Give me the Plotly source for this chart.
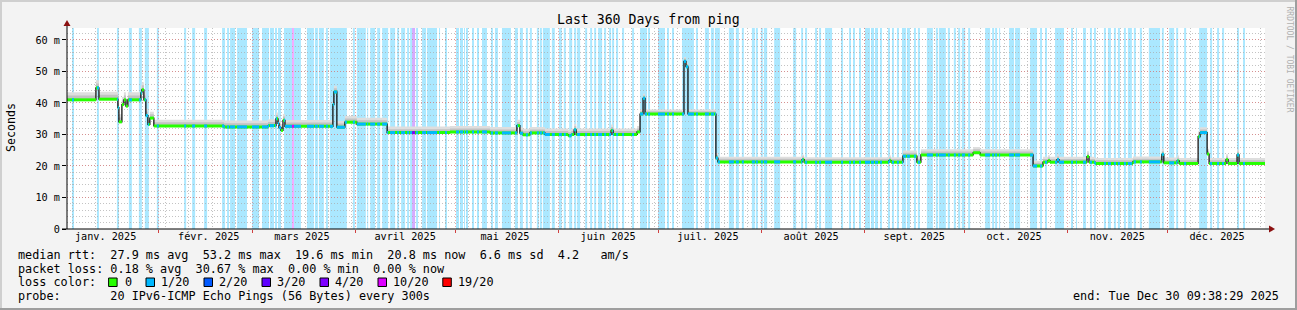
import plotly.graph_objects as go
from datetime import datetime, timedelta
from bisect import bisect_right

# ---------------- data ----------------
START = datetime(2025, 1, 4, 9, 38, 29)
END = datetime(2025, 12, 30, 9, 38, 29)
SPAN_DAYS = 360

# median rtt (ms): step levels, day offset (from START) where each level begins
med_day = [0, 8.7, 9.6, 15.3, 15.6, 16.5, 17.1, 17.7, 18.3, 22.2, 22.5, 23.1, 23.7, 24.3, 24.9, 26.1,
           47.2, 60.4, 62.8, 63.4, 63.7, 64.3, 64.9, 65.5, 79.9, 80.2, 81.1, 83.5, 87.1, 96.2, 115.1,
           127.1, 135.2, 136.1, 137.0, 139.1, 143.6, 150.6, 151.5, 152.4, 153.0, 163.5, 164.1, 171.3,
           172.2, 173.1, 173.7, 185.4, 186.0, 186.6, 195.0, 195.6, 220.9, 221.5, 247.0, 247.6, 251.2,
           255.4, 256.6, 272.3, 274.4, 290.3, 293.3, 294.8, 295.4, 297.5, 298.1, 306.5, 307.1, 308.9,
           320.3, 329.0, 329.6, 333.6, 334.2, 339.9, 340.5, 342.6, 343.2, 348.3, 348.9, 351.6, 352.2]
med_ms = [41.0, 44.8, 41.2, 38.5, 34.0, 39.5, 41.0, 39.0, 41.0, 43.2, 44.2, 41.0, 36.0, 33.2, 35.2, 32.7,
          32.4, 32.8, 35.0, 33.5, 32.2, 31.3, 34.5, 32.6, 39.5, 43.5, 32.3, 33.9, 33.3, 30.6, 30.8,
          30.5, 32.8, 30.4, 29.9, 30.5, 30.0, 29.6, 30.0, 31.5, 30.0, 31.3, 30.0, 30.8,
          36.5, 41.5, 36.5, 53.2, 51.5, 36.5, 22.5, 21.3, 22.0, 21.2, 21.7, 21.2, 23.1,
          21.2, 23.5, 24.2, 23.5, 20.0, 21.2, 21.7, 21.2, 22.0, 21.2, 23.0, 21.2, 20.8,
          21.3, 23.7, 21.0, 21.6, 20.8, 29.3, 30.6, 23.8, 20.8, 22.0, 20.8, 23.5, 20.8]

# smoke (spread of the 20 pings above the median, ms)
smoke_day = [0, 24, 96, 172, 195, 251, 290]
smoke_outer = [2.4, 2.0, 1.9, 1.4, 1.6, 1.8, 1.7]
smoke_inner = [1.4, 1.2, 1.1, 0.9, 1.0, 1.1, 1.0]

# loss periods (day offsets): 1/20, 4/20, 10/20
loss_1 = [(1.5, 2.1), (9.0, 9.6), (15.0, 15.6), (18.6, 19.5), (21.6, 22.5), (23.4, 24.6), (27.0, 27.6),
          (35.2, 35.8), (37.6, 38.5), (41.2, 42.1), (46.6, 47.5), (48.1, 48.7), (49.0, 50.5), (51.1, 54.1),
          (55.6, 57.7), (58.6, 60.7), (61.0, 62.2), (62.5, 63.1), (63.4, 64.3), (65.2, 67.6), (68.2, 70.3),
          (72.1, 74.2), (74.5, 75.4), (75.7, 77.2), (77.8, 78.4), (79.0, 84.1), (85.9, 86.5), (87.1, 89.8),
          (90.2, 90.5), (91.1, 92.6), (93.2, 94.1), (94.7, 96.5), (97.1, 98.6), (99.2, 99.8), (100.4, 101.6),
          (102.2, 102.8), (103.1, 103.7), (104.9, 105.5), (106.7, 107.9), (108.2, 111.2), (111.8, 112.1),
          (113.6, 114.2), (116.9, 117.8), (118.1, 119.0), (119.3, 119.6), (119.9, 120.5), (121.7, 122.3),
          (123.2, 123.8), (124.7, 126.2), (127.4, 128.0), (128.6, 129.5), (130.7, 133.4), (134.6, 135.5),
          (136.1, 137.0), (137.9, 138.5), (139.1, 139.7), (141.2, 141.8), (142.1, 142.7), (143.0, 145.1),
          (145.7, 146.6), (147.8, 148.7), (149.3, 149.9), (150.9, 151.8), (152.4, 153.0), (153.3, 154.2),
          (155.7, 156.3), (157.2, 157.8), (158.4, 159.0), (159.6, 160.8), (161.4, 162.0), (162.9, 163.5),
          (163.8, 164.4), (165.0, 165.6), (166.8, 167.4), (169.8, 170.4), (172.2, 174.3), (174.6, 175.2),
          (177.6, 179.7), (180.3, 180.9), (181.8, 182.4), (184.8, 188.4), (189.0, 189.6), (191.7, 192.9),
          (193.5, 194.4), (194.7, 196.2), (198.9, 200.4), (201.0, 201.9), (202.8, 203.4), (205.8, 206.7),
          (207.0, 207.6), (208.5, 209.1), (209.4, 210.4), (212.5, 214.3), (218.2, 219.1), (220.6, 221.2),
          (221.8, 222.4), (224.8, 225.4), (226.0, 226.6), (227.8, 229.9), (232.6, 233.2), (235.0, 235.6),
          (236.2, 236.8), (238.0, 238.6), (239.8, 241.3), (241.6, 242.5), (242.8, 243.7), (244.3, 244.9),
          (246.7, 247.3), (247.9, 248.5), (249.4, 250.0), (250.9, 252.1), (252.4, 253.3), (254.5, 255.1),
          (255.7, 256.3), (258.4, 260.2), (261.1, 261.7), (262.0, 264.1), (264.7, 265.3), (266.5, 267.1),
          (267.8, 268.4), (268.9, 269.9), (270.8, 271.4), (275.9, 277.4), (278.0, 278.6), (278.9, 279.5),
          (280.1, 280.4), (283.1, 284.6), (284.9, 286.4), (289.4, 291.5), (292.4, 293.0), (293.9, 294.5),
          (296.9, 299.6), (301.7, 302.3), (303.2, 303.5), (305.3, 306.2), (307.4, 308.0), (308.6, 309.2),
          (311.6, 312.2), (312.8, 313.7), (314.6, 315.2), (315.8, 316.4), (317.6, 318.2), (318.8, 320.0),
          (320.6, 321.2), (322.4, 323.0), (325.1, 328.5), (329.0, 329.6), (331.2, 332.7), (333.3, 333.9),
          (335.7, 336.3), (340.2, 342.6), (343.5, 344.1), (345.6, 346.2), (347.1, 347.7), (351.6, 352.2),
          (353.4, 354.0)]
loss_4 = [(103.7, 104.6)]
loss_10 = [(67.6, 68.2)]

month_labels = ["janv. 2025", "févr. 2025", "mars 2025", "avril 2025", "mai 2025", "juin 2025",
                "juil. 2025", "août 2025", "sept. 2025", "oct. 2025", "nov. 2025", "déc. 2025"]
y_ticks = [0, 10, 20, 30, 40, 50, 60]
y_ticktext = ["0", "10 m", "20 m", "30 m", "40 m", "50 m", "60 m"]

legend_lines = [
    "median rtt:  27.9 ms avg  53.2 ms max  19.6 ms min  20.8 ms now  6.6 ms sd  4.2   am/s",
    "packet loss: 0.18 % avg  30.67 % max  0.00 % min  0.00 % now",
    "loss color:",
    "probe:       20 IPv6-ICMP Echo Pings (56 Bytes) every 300s",
]
loss_names = ["0", "1/20", "2/20", "3/20", "4/20", "10/20", "19/20"]
loss_colors = ["#26ff00", "#00b8ff", "#0059ff", "#5e00ff", "#7e00ff", "#dd00ff", "#ff0000"]
band_colors = {"1": "rgba(0,184,255,0.33)", "4": "rgba(126,0,255,0.33)", "10": "rgba(221,0,255,0.33)"}

# ---------------- helpers ----------------
def dt(d):
    return START + timedelta(days=d)

def step(days, vals, d):
    return vals[max(bisect_right(days, d) - 1, 0)]

ends = med_day[1:] + [SPAN_DAYS]
segments = list(zip(med_day, ends, med_ms))

def pieces(intervals):
    xs, ys = [], []
    for a, b in intervals:
        for s, e, v in segments:
            lo, hi = max(a, s), min(b, e)
            if hi > lo:
                xs += [dt(lo), dt(hi), None]
                ys += [v, v, None]
    return xs, ys

fig = go.Figure()

# smoke
bp = sorted(set(med_day) | set(smoke_day))
sx = [dt(d) for d in bp] + [END]
base = [step(med_day, med_ms, d) for d in bp]
base += [base[-1]]
outer = [step(med_day, med_ms, d) + step(smoke_day, smoke_outer, d) for d in bp]
outer += [outer[-1]]
inner = [step(med_day, med_ms, d) + step(smoke_day, smoke_inner, d) for d in bp]
inner += [inner[-1]]
for top, col in ((outer, "#dedede"), (inner, "#c2c2c2")):
    fig.add_trace(go.Scatter(x=sx, y=base, mode="lines", line=dict(width=0, shape="hv"),
                             hoverinfo="skip"))
    fig.add_trace(go.Scatter(x=sx, y=top, mode="lines", line=dict(width=0, shape="hv"),
                             fill="tonexty", fillcolor=col, hoverinfo="skip"))

# median (black step line)
fig.add_trace(go.Scatter(x=[dt(d) for d in med_day] + [END], y=med_ms + [med_ms[-1]],
                         mode="lines", line=dict(color="#000000", width=1.2, shape="hv")))

# coloured median segments by loss
gx, gy = pieces([(0, SPAN_DAYS)])
fig.add_trace(go.Scatter(x=gx, y=gy, mode="lines", line=dict(color=loss_colors[0], width=3)))
for ivs, col in ((loss_1, loss_colors[1]), (loss_4, loss_colors[4]), (loss_10, loss_colors[5])):
    px_, py_ = pieces(ivs)
    fig.add_trace(go.Scatter(x=px_, y=py_, mode="lines", line=dict(color=col, width=3)))

# anchor trace for the label axis
fig.add_trace(go.Scatter(x=[START, END], y=[None, None], xaxis="x2", mode="lines",
                         hoverinfo="skip"))

shapes = []
for key, ivs in (("1", loss_1), ("4", loss_4), ("10", loss_10)):
    for a, b in ivs:
        shapes.append(dict(type="rect", xref="x", yref="paper", x0=dt(a), x1=dt(b), y0=0, y1=1,
                           fillcolor=band_colors[key], line=dict(width=0), layer="below"))

# ---------------- layout decorations ----------------
L, T, W, H = 67, 28, 1198, 201

def fx(px):
    return (px - L) / W

def fy(py):
    return (T + H - py) / H

def prect(x0, y0, x1, y1, color):
    return dict(type="rect", xref="paper", yref="paper", x0=fx(x0), x1=fx(x1), y0=fy(y1), y1=fy(y0),
                fillcolor=color, line=dict(width=0), layer="above")

# frame
shapes += [prect(0, 0, 1297, 2, "#cfcfcf"), prect(0, 0, 2, 310, "#cfcfcf"),
           prect(1295, 0, 1297, 310, "#9e9e9e"), prect(0, 308, 1297, 310, "#9e9e9e")]
# axes lines
shapes.append(dict(type="line", xref="paper", yref="paper", x0=fx(67), x1=fx(67), y0=fy(229), y1=fy(24),
                   line=dict(color="#000000", width=1), layer="above"))
shapes.append(dict(type="line", xref="paper", yref="paper", x0=fx(62), x1=fx(1270), y0=fy(229), y1=fy(229),
                   line=dict(color="#000000", width=1), layer="above"))
# arrows
shapes.append(dict(type="path", xref="paper", yref="paper",
                   path=f"M {fx(67)} {fy(20)} L {fx(63.5)} {fy(26)} L {fx(70.5)} {fy(26)} Z",
                   fillcolor="#8b1010", line=dict(width=0), layer="above"))
shapes.append(dict(type="path", xref="paper", yref="paper",
                   path=f"M {fx(1275)} {fy(229)} L {fx(1269)} {fy(225.5)} L {fx(1269)} {fy(232.5)} Z",
                   fillcolor="#8b1010", line=dict(width=0), layer="above"))

MONO = "DejaVu Sans Mono"
LEG = 11.8
ann = []
ann.append(dict(text="Last 360 Days from ping", x=fx(648.5), y=fy(19), xref="paper", yref="paper",
                showarrow=False, xanchor="center", yanchor="middle", font=dict(family=MONO, size=13.2)))
ann.append(dict(text="Seconds", x=fx(11), y=fy(128), xref="paper", yref="paper", textangle=-90,
                showarrow=False, xanchor="center", yanchor="middle", font=dict(family=MONO, size=11.6)))
ann.append(dict(text="RRDTOOL / TOBI OETIKER", x=fx(1288.5), y=fy(59), xref="paper", yref="paper",
                textangle=90, showarrow=False, xanchor="center", yanchor="middle",
                font=dict(family=MONO, size=8, color="#b0b0b0")))
for txt, ypx in zip(legend_lines, [255, 268.5, 282, 296]):
    ann.append(dict(text=txt.replace(" ", "\u00a0"), x=fx(16), y=fy(ypx), xref="paper", yref="paper",
                    showarrow=False, xanchor="left", yanchor="middle", font=dict(family=MONO, size=LEG)))
ann.append(dict(text="end:\u00a0Tue\u00a0Dec\u00a030\u00a009:38:29\u00a02025", x=fx(1281), y=fy(296),
                xref="paper", yref="paper", showarrow=False, xanchor="right", yanchor="middle",
                font=dict(family=MONO, size=LEG)))
sq_x = [108.6, 146, 204, 262, 320, 378, 442.8]
lab_x = [123, 158.8, 216.8, 274.9, 333, 391, 456]
for name, col, sx0, lx in zip(loss_names, loss_colors, sq_x, lab_x):
    shapes.append(dict(type="rect", xref="paper", yref="paper", x0=fx(sx0), x1=fx(sx0 + 8.5),
                       y0=fy(286.5), y1=fy(278), fillcolor=col, line=dict(color="#000000", width=1),
                       layer="above"))
    ann.append(dict(text=name, x=fx(lx), y=fy(282), xref="paper", yref="paper", showarrow=False,
                    xanchor="left", yanchor="middle", font=dict(family=MONO, size=LEG)))

month_starts = [datetime(2025, m, 1) for m in range(2, 13)]
month_mids = [datetime(2025, m, 16) for m in range(1, 13)]

RED_GRID = "rgba(225,110,110,0.6)"
GREY_GRID = "rgba(170,170,170,0.7)"

fig.update_layout(
    width=1297, height=310, margin=dict(l=L, r=1297 - L - W, t=T, b=310 - T - H),
    paper_bgcolor="#f3f3f3", plot_bgcolor="#ffffff", showlegend=False,
    font=dict(family=MONO, size=10.2, color="#000000"),
    xaxis=dict(type="date", range=[START, END], tickmode="array", tickvals=month_starts,
               showticklabels=False, showgrid=True, gridcolor=RED_GRID, griddash="1px,2px", gridwidth=1,
               ticks="outside", ticklen=3, tickcolor="#d04040", zeroline=False, showline=False,
               minor=dict(tick0="2025-01-06", dtick=7 * 86400000, showgrid=True, gridcolor=GREY_GRID,
                          griddash="1px,2px", gridwidth=1, ticks="")),
    xaxis2=dict(type="date", range=[START, END], overlaying="x", side="bottom", matches="x",
                tickmode="array", tickvals=month_mids, ticktext=month_labels, showgrid=False,
                ticks="", zeroline=False, showline=False, tickfont=dict(family=MONO, size=10.2)),
    yaxis=dict(range=[0, 63.8], tickmode="array", tickvals=y_ticks, ticktext=y_ticktext,
               showgrid=True, gridcolor=RED_GRID, griddash="1px,2px", gridwidth=1,
               ticks="outside", ticklen=4, tickcolor="#000000", zeroline=False, showline=False,
               tickfont=dict(family=MONO, size=10.2),
               minor=dict(dtick=2, showgrid=True, gridcolor=GREY_GRID, griddash="1px,2px",
                          gridwidth=1, ticks="")),
    shapes=shapes, annotations=ann,
)

fig.write_html("out.html")
